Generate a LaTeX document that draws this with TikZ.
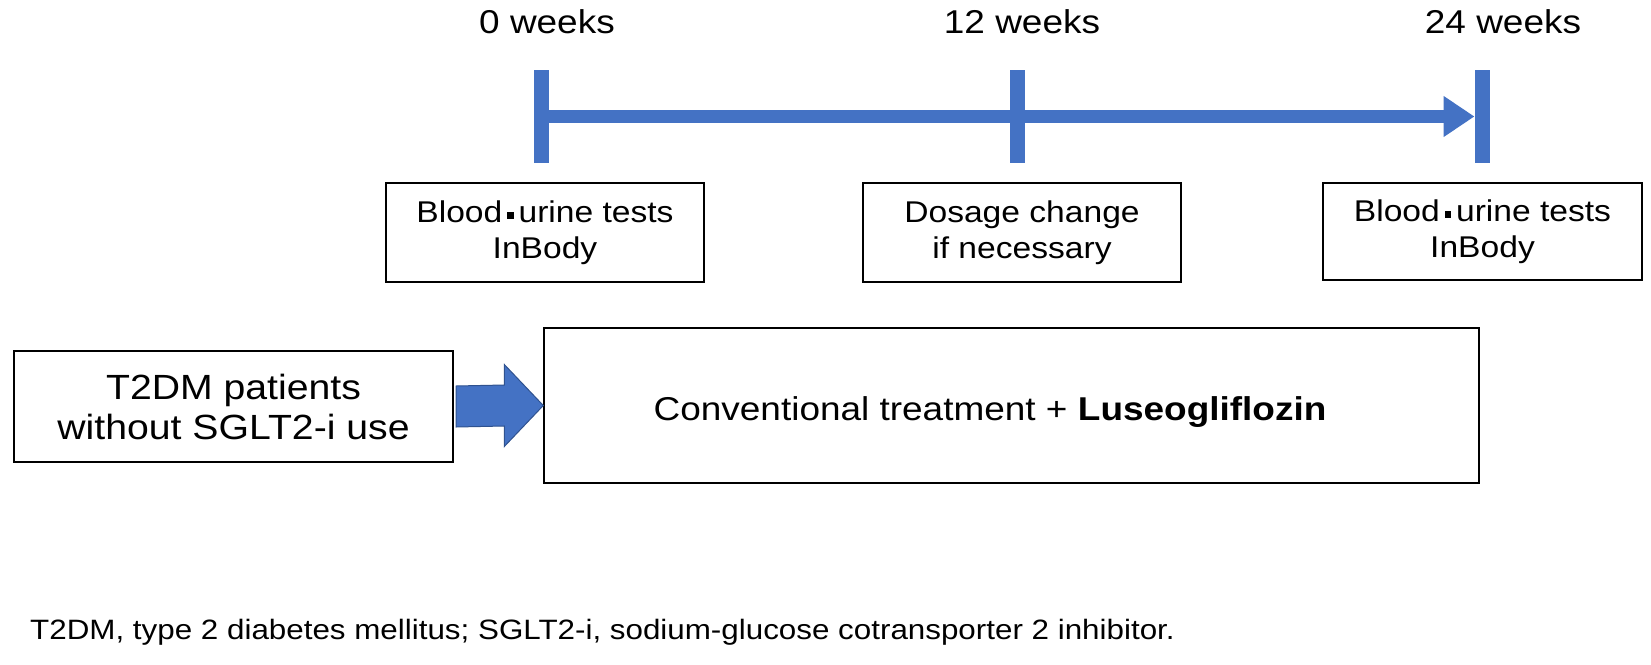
\documentclass[tikz,border=0pt]{standalone}
\usepackage{fontspec}
\setmainfont{Liberation Sans}[FakeStretch=1.12]
\usetikzlibrary{arrows.meta,calc}
\definecolor{tlblue}{RGB}{68,114,196}
\definecolor{tledge}{RGB}{47,82,143}
\newcommand{\sqdot}{\hspace{0.16em}\rule[0.12em]{0.22em}{0.22em}\hspace{0.16em}}
\begin{document}
\begin{tikzpicture}[x=1pt,y=-1pt,
  tickline/.style={draw=tlblue,line width=15pt},
  timeline/.style={draw=tlblue,line width=13pt,-{Triangle[length=31pt,width=39pt]}},
  infobox/.style={draw=black,line width=1.8pt,minimum width=318pt,minimum height=99pt,align=center,inner sep=0pt,font=\fontsize{30}{36}\selectfont},
  weeklbl/.style={anchor=base,inner sep=0pt,font=\fontsize{33}{40}\selectfont},
  blockarrow/.style={fill=tlblue,draw=tledge,line width=1pt,line join=miter}
]
\useasboundingbox (0,0) rectangle (1651,664);
% timeline
\coordinate (t0) at (541,116.5);
\coordinate (t12) at (1017,116.5);
\coordinate (t24) at (1482,116.5);
\coordinate (t24l) at (1474.5,116.5);
\draw[timeline] (t0) -- (t24l);
\foreach \c in {t0,t12,t24}{
  \draw[tickline] ($(\c)+(0,-46.5)$) -- ($(\c)+(0,46.5)$);
}
% week labels
\node[weeklbl] (w0) at (547,33) {0 weeks};
\node[weeklbl] (w12) at (1022,33) {12 weeks};
\node[weeklbl] (w24) at (1503,33) {24 weeks};
% info boxes
\node[infobox] (b0) at (545,232.5) {Blood\sqdot urine tests\\InBody};
\node[infobox] (b12) at (1022,232.5) {Dosage change\\if necessary};
\node[infobox,minimum height=97pt,minimum width=319pt] (b24) at (1482.5,231.5) {Blood\sqdot urine tests\\InBody};
% patients box and treatment box
\node[draw=black,line width=2pt,minimum width=439pt,minimum height=111pt,inner sep=0pt,align=center,font=\fontsize{35}{40}\selectfont] (pat) at (233.5,406.5) {T2DM patients\\without SGLT2-i use};
\node[draw=black,line width=1.4pt,minimum width=935pt,minimum height=155pt,inner sep=0pt] (conv) at (1011.5,405.5) {};
\node[anchor=base,inner sep=0pt,font=\fontsize{33}{40}\selectfont] (convtxt) at (990,420) {Conventional treatment + \textbf{Luseogliflozin}};
% block arrow
\path[blockarrow] ($(pat.east)+(2,-20.5)$) -- ($(conv.west)+(-39,-20.5)$) -- ($(conv.west)+(-39,-41)$) -- (conv.west) -- ($(conv.west)+(-39,41)$) -- ($(conv.west)+(-39,20.5)$) -- ($(pat.east)+(2,20.5)$) -- cycle;
% footnote
\node[anchor=base west,inner sep=0pt,font=\fontsize{28}{32}\selectfont] (note) at (30,639) {T2DM, type 2 diabetes mellitus; SGLT2-i, sodium-glucose cotransporter 2 inhibitor.};
\end{tikzpicture}
\end{document}
